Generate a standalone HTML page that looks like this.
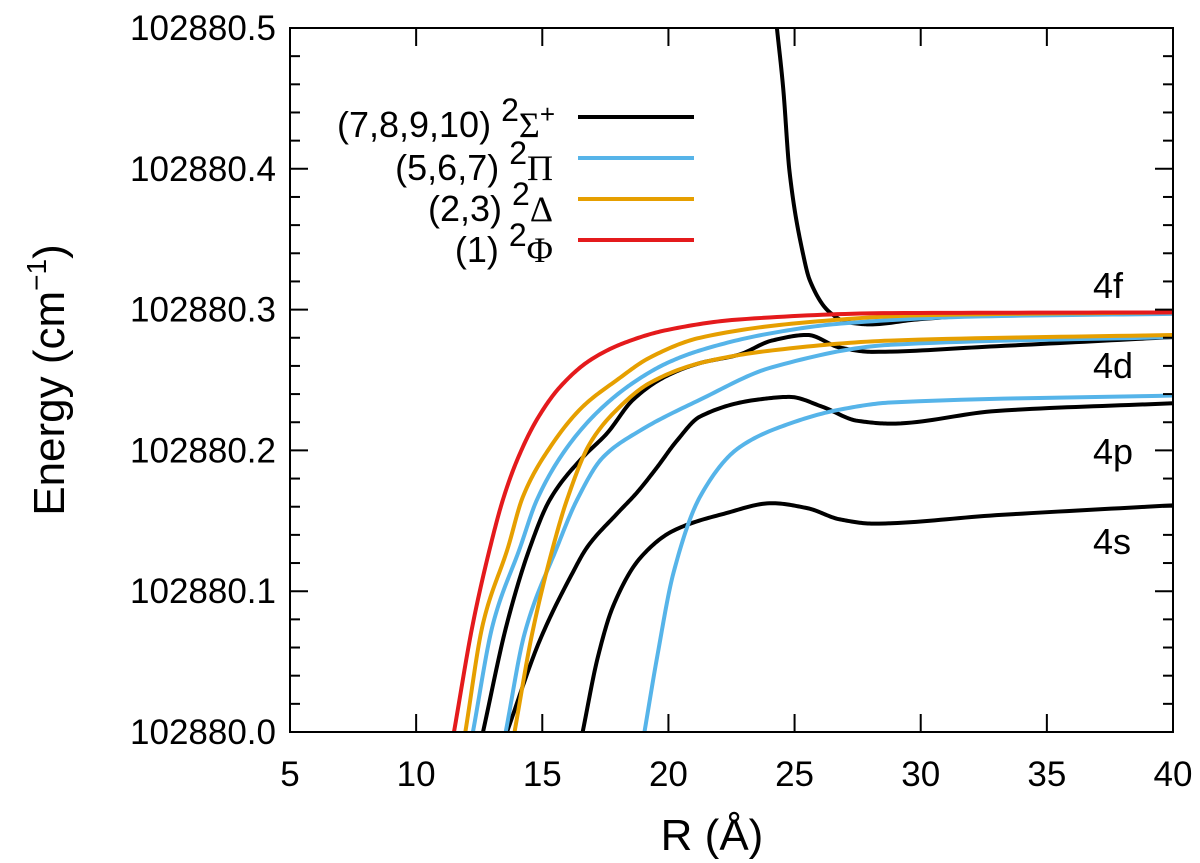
<!DOCTYPE html>
<html><head><meta charset="utf-8"><style>
body{margin:0;background:#fff}
svg{display:block;font-family:"Liberation Sans",sans-serif}
</style></head><body>
<svg id="chart" width="1200" height="863">
<defs><clipPath id="clip"><rect x="290" y="28" width="883" height="704"/></clipPath></defs>
<g id="curves" clip-path="url(#clip)"></g>
<rect x="290" y="28" width="883" height="704" fill="none" stroke="#000" stroke-width="2"/>
<g id="axes"></g>
<text x="0" y="0" transform="translate(64,380) rotate(-90)" text-anchor="middle" font-size="44">Energy (cm<tspan dy="-18" font-size="28">−1</tspan><tspan dy="18">)</tspan></text>
<text x="712" y="850" text-anchor="middle" font-size="44">R (Å)</text>
<g font-size="36">
<text x="1093" y="298">4f</text>
<text x="1093" y="378">4d</text>
<text x="1093" y="464">4p</text>
<text x="1093" y="554">4s</text>
</g>
<g font-size="36" text-anchor="end">
<g><text x="555" y="137">(7,8,9,10) <tspan dy="-16" font-size="32">2</tspan><tspan dy="16" font-family="Liberation Serif">Σ</tspan><tspan dy="-14" font-size="26">+</tspan></text><line x1="578" y1="117" x2="694" y2="117" stroke="#000" stroke-width="4"/></g>
<g><text x="553" y="180">(5,6,7) <tspan dy="-16" font-size="32">2</tspan><tspan dy="16" font-family="Liberation Serif">Π</tspan></text><line x1="578" y1="158" x2="694" y2="158" stroke="#56b4e9" stroke-width="4"/></g>
<g><text x="553" y="221">(2,3) <tspan dy="-16" font-size="32">2</tspan><tspan dy="16" font-family="Liberation Serif">Δ</tspan></text><line x1="578" y1="199" x2="694" y2="199" stroke="#e69f00" stroke-width="4"/></g>
<g><text x="553" y="262">(1) <tspan dy="-16" font-size="32">2</tspan><tspan dy="16" font-family="Liberation Serif">Φ</tspan></text><line x1="578" y1="240" x2="694" y2="240" stroke="#e41a1c" stroke-width="4"/></g>
</g>
</svg>
<script>
const xTicks=[5,10,15,20,25,30,35,40];
const yTicks=[0,0.1,0.2,0.3,0.4,0.5];
const yTickLabels=["102880.0","102880.1","102880.2","102880.3","102880.4","102880.5"];
const phiR=[11.5,12.25,12.93,13.44,14.0,14.79,15.7,16.89,18.2,19.94,22.8,28.8,40];
const phiE=[0,0.077,0.131,0.165,0.193,0.222,0.245,0.264,0.276,0.2855,0.293,0.2975,0.298];
const delta1R=[11.95,12.65,13.64,14.23,15.3,16.6,17.96,19.27,21.25,25.5,30,40];
const delta1E=[0,0.077,0.131,0.167,0.202,0.231,0.25,0.266,0.280,0.291,0.296,0.298];
const delta2R=[13.9,14.6,15.42,15.98,16.89,17.96,19.27,21.25,24.1,28.8,40];
const delta2E=[0,0.07,0.131,0.165,0.205,0.229,0.248,0.262,0.271,0.278,0.282];
const pi1R=[12.25,13.05,14.12,14.79,15.98,17.29,18.6,19.94,21.25,24,26.8,32,40];
const pi1E=[0,0.077,0.131,0.165,0.202,0.229,0.248,0.262,0.271,0.283,0.290,0.295,0.297];
const pi2R=[13.55,14.3,15.58,16.38,17.4,18.87,21.25,24.1,28.8,40];
const pi2E=[0,0.07,0.131,0.165,0.195,0.214,0.236,0.259,0.275,0.2805];
const pi3R=[19.05,19.55,20.2,21.25,22.8,24.8,26.8,28.8,40];
const pi3E=[0,0.053,0.113,0.167,0.202,0.219,0.229,0.234,0.239];
const sig1R=[12.65,13.6,14.51,15.3,16.6,17.56,18.6,19.94,21.25,22.8,24.1,25.5,26.8,28.1,33,40];
const sig1E=[0,0.077,0.131,0.165,0.195,0.212,0.236,0.253,0.262,0.268,0.278,0.282,0.273,0.270,0.274,0.2805];
const sig2R=[13.6,14.9,16.2,16.77,17.96,18.75,19.55,20.34,21.25,23.5,24.8,26.1,27.5,28.8,33,40];
const sig2E=[0,0.065,0.113,0.131,0.155,0.17,0.188,0.207,0.224,0.236,0.238,0.231,0.221,0.219,0.228,0.2335];
const sig3R=[16.6,17.2,17.8,18.9,20.2,22.2,24.1,25.5,26.8,28.1,33,40];
const sig3E=[0,0.053,0.089,0.124,0.143,0.155,0.1625,0.159,0.151,0.148,0.154,0.161];
const sig4R=[24.3,24.55,24.8,25.33,25.6,26.4,27.1,28.0,29.85,32.5,40];
const sig4E=[0.5,0.457,0.398,0.34,0.321,0.298,0.291,0.2895,0.293,0.296,0.2975];

const NS="http://www.w3.org/2000/svg";
const xs=r=>290+(r-5)*(883/35);
const ys=e=>732-e*(704/0.5);
function monotone(X,Y){
  const n=X.length,d=[],m=[];
  for(let i=0;i<n-1;i++)d.push((Y[i+1]-Y[i])/(X[i+1]-X[i]));
  m[0]=d[0];m[n-1]=d[n-2];
  for(let i=1;i<n-1;i++){
    if(d[i-1]*d[i]<=0)m[i]=0;
    else{const h0=X[i]-X[i-1],h1=X[i+1]-X[i];const w1=2*h1+h0,w2=h1+2*h0;m[i]=(w1+w2)/(w1/d[i-1]+w2/d[i]);}
  }
  return m;
}
function pathFor(R,E){
  const m=monotone(R,E);
  let d="M"+xs(R[0]).toFixed(2)+","+ys(E[0]).toFixed(2);
  for(let i=0;i<R.length-1;i++){
    const h=R[i+1]-R[i];
    for(let k=1;k<=20;k++){
      const t=k/20,t2=t*t,t3=t2*t;
      const v=(2*t3-3*t2+1)*E[i]+(t3-2*t2+t)*h*m[i]+(-2*t3+3*t2)*E[i+1]+(t3-t2)*h*m[i+1];
      d+=" L"+xs(R[i]+t*h).toFixed(2)+","+ys(v).toFixed(2);
    }
  }
  return d;
}
const g=document.getElementById("curves");
const series=[
 [sig3R,sig3E,"#000","curve-sigma-4s"],[sig2R,sig2E,"#000","curve-sigma-4p"],
 [sig1R,sig1E,"#000","curve-sigma-4d"],[sig4R,sig4E,"#000","curve-sigma-4f"],
 [pi3R,pi3E,"#56b4e9","curve-pi-4p"],[pi2R,pi2E,"#56b4e9","curve-pi-4d"],[pi1R,pi1E,"#56b4e9","curve-pi-4f"],
 [delta2R,delta2E,"#e69f00","curve-delta-4d"],[delta1R,delta1E,"#e69f00","curve-delta-4f"],
 [phiR,phiE,"#e41a1c","curve-phi-4f"]];
series.forEach(s=>{
  const el=document.createElementNS(NS,"path");
  el.setAttribute("d",pathFor(s[0],s[1]));
  el.setAttribute("fill","none");el.setAttribute("stroke",s[2]);el.setAttribute("stroke-width","4");
  el.setAttribute("stroke-linejoin","round");
  
  
  g.appendChild(el);
});
const ax=document.getElementById("axes");
function mk(tag,attrs){const e=document.createElementNS(NS,tag);for(const k in attrs)e.setAttribute(k,attrs[k]);ax.appendChild(e);return e;}
xTicks.forEach(t=>{
  const x=xs(t);
  const l=mk("line",{x1:x,x2:x,y1:732,y2:714,stroke:"#000","stroke-width":2});
  
  
  const l2=mk("line",{x1:x,x2:x,y1:28,y2:46,stroke:"#000","stroke-width":2});
  
  
  const tx=mk("text",{x:x,y:786,"text-anchor":"middle","font-size":35});
  tx.textContent=t;
  
  
});
for(let i=0;i<=25;i++){
  const y=ys(i*0.02);const len=(i%5===0)?18:10;
  const l=mk("line",{x1:290,x2:290+len,y1:y,y2:y,stroke:"#000","stroke-width":2});
  
  
  const r=mk("line",{x1:1173,x2:1173-len,y1:y,y2:y,stroke:"#000","stroke-width":2});
  
  
}
yTicks.forEach((t,i)=>{
  const tx=mk("text",{x:276,y:ys(t)+12,"text-anchor":"end","font-size":35});
  tx.textContent=yTickLabels[i];
  
  
});
</script>
</body></html>
